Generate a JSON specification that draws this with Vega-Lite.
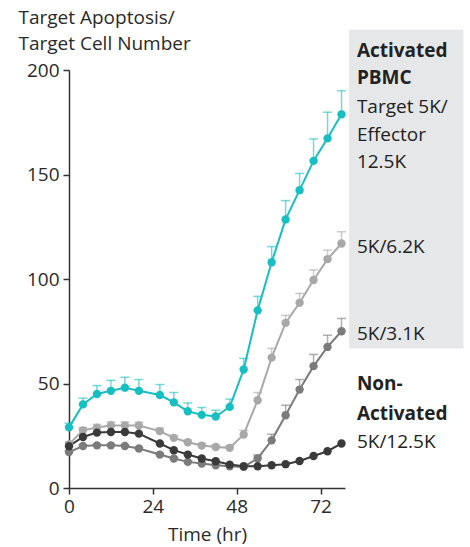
{
  "$schema": "https://vega.github.io/schema/vega-lite/v6.json",
  "autosize": {"type": "none"},
  "padding": {"left": 69, "top": 70, "right": 125, "bottom": 59},
  "width": 276,
  "height": 418,
  "background": "white",
  "config": {
    "view": {"stroke": null},
    "font": "Open Sans",
    "axis": {
      "grid": false,
      "domainColor": "#333333",
      "domainWidth": 1.5,
      "tickColor": "#333333",
      "tickWidth": 1.5,
      "tickSize": 6,
      "labelFont": "Open Sans",
      "labelFontSize": 19,
      "labelColor": "#2a2a2a",
      "labelFlush": false,
      "titleFont": "Open Sans",
      "titleFontSize": 19,
      "titleFontWeight": "normal",
      "titleColor": "#2a2a2a"
    }
  },
  "datasets": {
    "series": [
      {"s": "A12.5", "t": 0, "v": 29, "e": 2},
      {"s": "A12.5", "t": 4, "v": 40, "e": 3},
      {"s": "A12.5", "t": 8, "v": 45, "e": 4},
      {"s": "A12.5", "t": 12, "v": 46.5, "e": 5},
      {"s": "A12.5", "t": 16, "v": 48, "e": 5},
      {"s": "A12.5", "t": 20, "v": 46.5, "e": 5.4},
      {"s": "A12.5", "t": 26, "v": 44.5, "e": 5},
      {"s": "A12.5", "t": 30, "v": 41, "e": 4.7},
      {"s": "A12.5", "t": 34, "v": 36.7, "e": 4},
      {"s": "A12.5", "t": 38, "v": 35, "e": 3.5},
      {"s": "A12.5", "t": 42, "v": 34.2, "e": 3},
      {"s": "A12.5", "t": 46, "v": 38.8, "e": 3.7},
      {"s": "A12.5", "t": 50, "v": 56.7, "e": 5.3},
      {"s": "A12.5", "t": 54, "v": 85, "e": 6.7},
      {"s": "A12.5", "t": 58, "v": 108, "e": 7.5},
      {"s": "A12.5", "t": 62, "v": 128.5, "e": 9},
      {"s": "A12.5", "t": 66, "v": 142.5, "e": 8},
      {"s": "A12.5", "t": 70, "v": 156.5, "e": 10.5},
      {"s": "A12.5", "t": 74, "v": 167.3, "e": 12.5},
      {"s": "A12.5", "t": 78, "v": 178.8, "e": 11.3},
      {"s": "A6.2", "t": 0, "v": 21, "e": 1},
      {"s": "A6.2", "t": 4, "v": 27.6, "e": 1.3},
      {"s": "A6.2", "t": 8, "v": 28.9, "e": 1.5},
      {"s": "A6.2", "t": 12, "v": 29.9, "e": 1.7},
      {"s": "A6.2", "t": 16, "v": 29.9, "e": 1.7},
      {"s": "A6.2", "t": 20, "v": 29.9, "e": 1.5},
      {"s": "A6.2", "t": 26, "v": 27.2, "e": 1.5},
      {"s": "A6.2", "t": 30, "v": 24, "e": 1.2},
      {"s": "A6.2", "t": 34, "v": 21.9, "e": 1},
      {"s": "A6.2", "t": 38, "v": 20.3, "e": 1},
      {"s": "A6.2", "t": 42, "v": 19.6, "e": 1},
      {"s": "A6.2", "t": 46, "v": 19.2, "e": 1},
      {"s": "A6.2", "t": 50, "v": 25.6, "e": 2},
      {"s": "A6.2", "t": 54, "v": 42, "e": 3.7},
      {"s": "A6.2", "t": 58, "v": 62.4, "e": 4.4},
      {"s": "A6.2", "t": 62, "v": 79, "e": 3.6},
      {"s": "A6.2", "t": 66, "v": 88.6, "e": 4.5},
      {"s": "A6.2", "t": 70, "v": 99.5, "e": 4.8},
      {"s": "A6.2", "t": 74, "v": 109.5, "e": 4.3},
      {"s": "A6.2", "t": 78, "v": 117, "e": 5.6},
      {"s": "A3.1", "t": 0, "v": 17.2, "e": 0.6},
      {"s": "A3.1", "t": 4, "v": 20.1, "e": 0.6},
      {"s": "A3.1", "t": 8, "v": 20.4, "e": 0.6},
      {"s": "A3.1", "t": 12, "v": 20.4, "e": 0.6},
      {"s": "A3.1", "t": 16, "v": 20.1, "e": 0.6},
      {"s": "A3.1", "t": 20, "v": 18.9, "e": 0.6},
      {"s": "A3.1", "t": 26, "v": 16, "e": 0.5},
      {"s": "A3.1", "t": 30, "v": 14.1, "e": 0.5},
      {"s": "A3.1", "t": 34, "v": 12.5, "e": 0.5},
      {"s": "A3.1", "t": 38, "v": 11.7, "e": 0.5},
      {"s": "A3.1", "t": 42, "v": 10.9, "e": 0.5},
      {"s": "A3.1", "t": 46, "v": 10.4, "e": 0.5},
      {"s": "A3.1", "t": 50, "v": 10.1, "e": 0.5},
      {"s": "A3.1", "t": 54, "v": 14.2, "e": 1.6},
      {"s": "A3.1", "t": 58, "v": 22.8, "e": 2.9},
      {"s": "A3.1", "t": 62, "v": 34.8, "e": 4.8},
      {"s": "A3.1", "t": 66, "v": 47.1, "e": 4.8},
      {"s": "A3.1", "t": 70, "v": 58.3, "e": 5.6},
      {"s": "A3.1", "t": 74, "v": 67.5, "e": 5.6},
      {"s": "A3.1", "t": 78, "v": 75, "e": 6.1},
      {"s": "N12.5", "t": 0, "v": 20, "e": 0},
      {"s": "N12.5", "t": 4, "v": 24.4, "e": 0},
      {"s": "N12.5", "t": 8, "v": 26.5, "e": 0},
      {"s": "N12.5", "t": 12, "v": 26.8, "e": 0},
      {"s": "N12.5", "t": 16, "v": 26.8, "e": 0},
      {"s": "N12.5", "t": 20, "v": 26, "e": 0},
      {"s": "N12.5", "t": 26, "v": 21.3, "e": 0},
      {"s": "N12.5", "t": 30, "v": 18.1, "e": 0},
      {"s": "N12.5", "t": 34, "v": 16, "e": 0},
      {"s": "N12.5", "t": 38, "v": 14.1, "e": 0},
      {"s": "N12.5", "t": 42, "v": 12.8, "e": 0},
      {"s": "N12.5", "t": 46, "v": 11.2, "e": 0},
      {"s": "N12.5", "t": 50, "v": 10.4, "e": 0},
      {"s": "N12.5", "t": 54, "v": 10.4, "e": 0},
      {"s": "N12.5", "t": 58, "v": 10.9, "e": 0},
      {"s": "N12.5", "t": 62, "v": 11.4, "e": 0},
      {"s": "N12.5", "t": 66, "v": 12.9, "e": 0},
      {"s": "N12.5", "t": 70, "v": 15.3, "e": 0},
      {"s": "N12.5", "t": 74, "v": 17.6, "e": 0},
      {"s": "N12.5", "t": 78, "v": 21.3, "e": 0}
    ],
    "box": [{"x1": 80.2, "x2": 112.9, "y1": 66.8, "y2": 219.2}],
    "boldLabels": [
      {"x": 82.4, "y": 206.1, "label": "Activated"},
      {"x": 82.4, "y": 193.3, "label": "PBMC"},
      {"x": 82.4, "y": 46.8, "label": "Non-"},
      {"x": 82.4, "y": 32.4, "label": "Activated"}
    ],
    "labels": [
      {"x": 82.4, "y": 179.3, "label": "Target 5K/"},
      {"x": 82.4, "y": 166.2, "label": "Effector"},
      {"x": 82.4, "y": 153.0, "label": "12.5K"},
      {"x": 82.4, "y": 112.5, "label": "5K/6.2K"},
      {"x": 82.4, "y": 70.7, "label": "5K/3.1K"},
      {"x": 82.4, "y": 18.9, "label": "5K/12.5K"}
    ]
  },
  "layer": [
    {
      "data": {"name": "box"},
      "mark": {"type": "rect", "color": "#e6e7e9", "clip": false},
      "encoding": {
        "x": {"field": "x1", "type": "quantitative", "scale": {"domain": [0, 79], "nice": false, "zero": false}},
        "x2": {"field": "x2"},
        "y": {"field": "y1", "type": "quantitative", "scale": {"domain": [0, 200], "nice": false}},
        "y2": {"field": "y2"}
      }
    },
    {
      "data": {"name": "series"},
      "transform": [{"filter": "datum.e > 0"}, {"calculate": "datum.v + datum.e", "as": "hi"}],
      "mark": {"type": "rule", "strokeWidth": 1.5, "opacity": 0.6},
      "encoding": {
        "x": {"field": "t", "type": "quantitative"},
        "y": {"field": "v", "type": "quantitative"},
        "y2": {"field": "hi"},
        "color": {"field": "s", "type": "nominal", "legend": null,
          "scale": {"domain": ["N12.5", "A3.1", "A6.2", "A12.5"], "range": ["#3a3a3a", "#7b7b7b", "#a8a8a8", "#17bfc2"]}}
      }
    },
    {
      "data": {"name": "series"},
      "transform": [{"filter": "datum.e > 0"}, {"calculate": "datum.v + datum.e", "as": "hi"}],
      "mark": {"type": "tick", "orient": "horizontal", "size": 9, "thickness": 1.5, "opacity": 0.6},
      "encoding": {
        "x": {"field": "t", "type": "quantitative"},
        "y": {"field": "hi", "type": "quantitative"},
        "color": {"field": "s", "type": "nominal", "legend": null}
      }
    },
    {
      "data": {"name": "series"},
      "mark": {"type": "line", "strokeWidth": 2},
      "encoding": {
        "x": {"field": "t", "type": "quantitative",
          "axis": {"values": [0, 24, 48, 72], "title": "Time (hr)", "labelPadding": 3, "titlePadding": 9}},
        "y": {"field": "v", "type": "quantitative",
          "axis": {"values": [0, 50, 100, 150, 200], "labelPadding": 4,
            "title": ["Target Apoptosis/", "Target Cell Number"],
            "titleAngle": 0, "titleAlign": "left", "titleBaseline": "alphabetic",
            "titleX": -51, "titleY": -47, "titleLineHeight": 26.5}},
        "color": {"field": "s", "type": "nominal", "legend": null}
      }
    },
    {
      "data": {"name": "series"},
      "mark": {"type": "circle", "size": 70, "opacity": 1},
      "encoding": {
        "x": {"field": "t", "type": "quantitative"},
        "y": {"field": "v", "type": "quantitative"},
        "color": {"field": "s", "type": "nominal", "legend": null}
      }
    },
    {
      "data": {"name": "boldLabels"},
      "mark": {"type": "text", "align": "left", "baseline": "alphabetic", "fontSize": 19, "fontWeight": "bold", "color": "#222222", "font": "Open Sans"},
      "encoding": {
        "x": {"field": "x", "type": "quantitative"},
        "y": {"field": "y", "type": "quantitative"},
        "text": {"field": "label"}
      }
    },
    {
      "data": {"name": "labels"},
      "mark": {"type": "text", "align": "left", "baseline": "alphabetic", "fontSize": 19, "color": "#222222", "font": "Open Sans"},
      "encoding": {
        "x": {"field": "x", "type": "quantitative"},
        "y": {"field": "y", "type": "quantitative"},
        "text": {"field": "label"}
      }
    }
  ]
}
